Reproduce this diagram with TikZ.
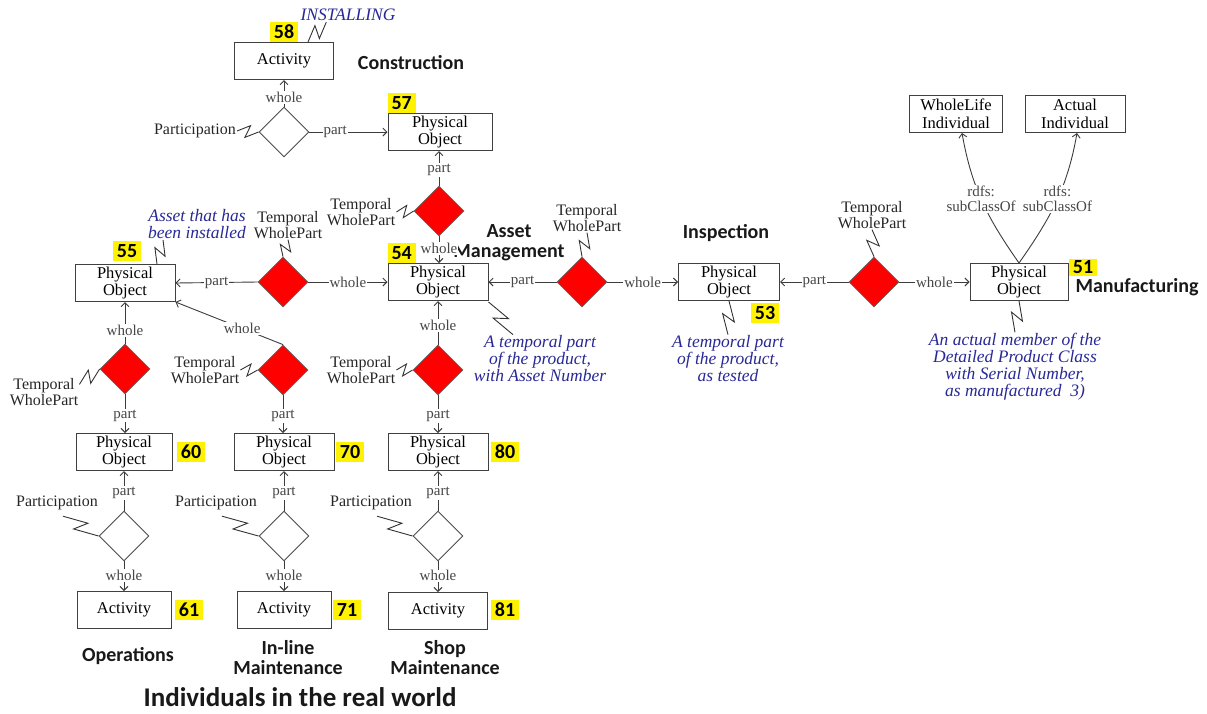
\documentclass[tikz,border=0pt]{standalone}
\usepackage{fontspec}
\setmainfont{Liberation Serif}
\newfontfamily\sansb{Carlito}
\usetikzlibrary{arrows.meta,calc,shapes.geometric}
\definecolor{annblue}{RGB}{40,40,150}
\definecolor{lncol}{RGB}{60,60,60}
\definecolor{relgray}{RGB}{70,70,70}
\newcommand\zz[2]{\draw[zigline] (#1) -- ($(#1)!0.62!(#2)!6pt!90:(#2)$) -- ($(#1)!0.38!(#2)!6pt!-90:(#2)$) -- (#2);}
\tikzset{
 obj/.style={draw=black!75, line width=1pt, fill=white, minimum width=100pt, minimum height=37pt, align=center, inner sep=1pt, font=\fontsize{16.5}{17.5}\selectfont},
 reddia/.style={diamond, draw=black!60, line width=0.8pt, fill=red, minimum width=50pt, minimum height=50pt, inner sep=0pt},
 whitedia/.style={diamond, draw=black!70, line width=0.9pt, fill=white, minimum width=50pt, minimum height=50pt, inner sep=0pt},
 num/.style={fill=yellow, font=\sansb\bfseries\fontsize{20}{20}\selectfont, inner sep=0pt, minimum width=28pt, minimum height=20pt},
 phase/.style={font=\sansb\bfseries\fontsize{20}{20}\selectfont, align=center, text=black!90, inner sep=1pt},
 rel/.style={font=\fontsize{15}{15}\selectfont, text=relgray, fill=white, inner sep=1pt},
 conn/.style={draw=lncol, line width=0.9pt, -{Straight Barb[length=4pt,width=8pt]}},
 zigline/.style={draw=black!80, line width=0.9pt},
 ann/.style={font=\itshape\fontsize{17.5}{17}\selectfont, text=annblue, align=center, inner sep=1pt},
 twp/.style={font=\fontsize{16}{15.5}\selectfont, align=center, inner sep=1pt, text=black!85},
}
\begin{document}
\begin{tikzpicture}[x=1pt,y=-1pt]
\useasboundingbox (0,0) rectangle (1207,713);
% ---------- top ----------
\node[obj, minimum width=99pt] (act58) at (284,61) {Activity};
\node[num] (n58) at (284,32) {58};
\node[ann] (ins) at (348,15) {INSTALLING};
\node[phase] (construction) at (411,63) {Construction};
\node[whitedia] (d58) at (284,132) {};
\node[twp, anchor=east] (part58) at (237,131) {Participation};
\node[obj, minimum width=104pt] (po57) at (440,132) {Physical\\Object};
\node[num, anchor=south west] (n57) at (po57.north west) {57};
\node[reddia] (d57) at (439,211) {};
\node[twp] (tw57) at (361,212) {Temporal\\WholePart};
\node[phase] (assetmgmt) at (509,243) {Asset\\Management};
\node[obj] (po54) at (438,282) {Physical\\Object};
\node[num, anchor=south west] (n54) at (po54.north west) {54};
\node[ann] (ann54) at (540,359) {A temporal part\\of the product,\\with Asset Number};
% left of 54
\node[reddia] (d55) at (283,282) {};
\node[twp] (tw55) at (288,225) {Temporal\\WholePart};
\node[obj] (po55) at (125,283) {Physical\\Object};
\node[num] (n55) at (127,251) {55};
\node[ann] (ann55) at (197,224) {Asset that has\\been installed};
% right of 54
\node[reddia] (d53) at (582,282) {};
\node[twp] (tw53) at (587,218) {Temporal\\WholePart};
\node[obj, minimum width=101pt] (po53) at (729,282) {Physical\\Object};
\node[num] (n53) at (765,313) {53};
\node[phase] (insp) at (726,233) {Inspection};
\node[ann] (ann53) at (728,359) {A temporal part\\of the product,\\as tested};
\node[reddia] (d51) at (874,282) {};
\node[twp] (tw51) at (872,215) {Temporal\\WholePart};
\node[obj, minimum width=98pt] (po51) at (1019,282) {Physical\\Object};
\node[num, minimum height=17pt] (n51) at (1083,267) {51};
\node[phase] (manu) at (1137,287) {Manufacturing};
\node[ann] (ann51) at (1015,367) {An actual member of the\\Detailed Product Class\\with Serial Number,\\as manufactured\ \ 3)};
\node[obj, minimum width=93pt] (wl) at (956,114) {WholeLife\\Individual};
\node[obj] (ai) at (1075,114) {Actual\\Individual};
% ---------- lower columns ----------
\node[reddia] (d60a) at (125,369) {};
\node[twp] (tw60) at (44,392) {Temporal\\WholePart};
\node[obj, minimum width=96pt] (po60) at (124,452) {Physical\\Object};
\node[num] (n60) at (191,452) {60};
\node[whitedia] (d60) at (124,536) {};
\node[twp] (par60) at (57,503) {Participation};
\node[obj, minimum width=94pt] (act61) at (124,610) {Activity};
\node[num] (n61) at (189,610) {61};
\node[phase] (ops) at (128,656) {Operations};

\node[reddia] (d70a) at (283,370) {};
\node[twp] (tw70) at (205,370) {Temporal\\WholePart};
\node[obj] (po70) at (284,452) {Physical\\Object};
\node[num] (n70) at (350,452) {70};
\node[whitedia] (d70) at (284,536) {};
\node[twp] (par70) at (216,503) {Participation};
\node[obj, minimum width=94pt] (act71) at (284,610) {Activity};
\node[num] (n71) at (347,610) {71};
\node[phase] (inline) at (288,658) {In-line\\Maintenance};

\node[reddia] (d80a) at (438,370) {};
\node[twp] (tw80) at (361,370) {Temporal\\WholePart};
\node[obj] (po80) at (438,452) {Physical\\Object};
\node[num] (n80) at (505,452) {80};
\node[whitedia] (d80) at (438,536) {};
\node[twp] (par80) at (371,503) {Participation};
\node[obj, minimum width=99pt] (act81) at (438,611) {Activity};
\node[num] (n81) at (505,610) {81};
\node[phase] (shop) at (445,658) {Shop\\Maintenance};

\node[font=\sansb\bfseries\fontsize{27}{27}\selectfont, text=black!90] (title) at (300,697) {Individuals in the real world};

% ---------- connectors ----------
\draw[conn] (d58.north) -- node[rel,pos=0.35]{whole} (act58.south);
\draw[conn] (d58.east) -- node[rel,pos=0.33]{part} (po57.west);
\draw[conn] (d57.north) -- node[rel,pos=0.45]{part} (d57.north |- po57.south);
\draw[conn] (d57.south) -- node[rel,pos=0.45]{whole} (d57.south |- po54.north);
\draw[conn] (d55.east) -- node[rel]{whole} (po54.west);
\draw[conn] (d55.west) -- node[rel]{part} (po55.east);
\draw[conn] (d53.west) -- node[rel]{part} (po54.east);
\draw[conn] (d53.east) -- node[rel]{whole} (po53.west);
\draw[conn] (d51.west) -- node[rel]{part} (po53.east);
\draw[conn] (d51.east) -- node[rel]{whole} (po51.west);
\coordinate (wlend) at ($(wl.south)+(6,0)$);
\coordinate (aiend) at ($(ai.south)+(2,0)$);
\draw[conn] (po51.north) to[out=125,in=-80] node[rel, align=center, pos=0.52]{rdfs:\\subClassOf} (wlend);
\draw[conn] (po51.north) to[out=55,in=-100] node[rel, align=center, pos=0.52]{rdfs:\\subClassOf} (aiend);

\draw[conn] (d60a.north) -- node[rel,pos=0.32]{whole} (d60a.north |- po55.south);
\draw[conn] (d60a.south) -- node[rel,pos=0.55]{part} (d60a.south |- po60.north);
\draw[conn] (d60.north) -- node[rel,pos=0.45]{part} (d60.north |- po60.south);
\draw[conn] (d60.south) -- node[rel,pos=0.47]{whole} (d60.south |- act61.north);

\draw[conn] (d70a.north) -- node[rel,pos=0.38]{whole} (po55.south east);
\draw[conn] (d70a.south) -- node[rel,pos=0.55]{part} (d70a.south |- po70.north);
\draw[conn] (d70.north) -- node[rel,pos=0.45]{part} (d70.north |- po70.south);
\draw[conn] (d70.south) -- node[rel,pos=0.47]{whole} (d70.south |- act71.north);

\draw[conn] (d80a.north) -- node[rel,pos=0.44]{whole} (d80a.north |- po54.south);
\draw[conn] (d80a.south) -- node[rel,pos=0.55]{part} (d80a.south |- po80.north);
\draw[conn] (d80.north) -- node[rel,pos=0.45]{part} (d80.north |- po80.south);
\draw[conn] (d80.south) -- node[rel,pos=0.47]{whole} (d80.south |- act81.north);

% ---------- zigzag annotation links ----------
\coordinate (z58a) at ($(act58.north)+(24,0)$);
\coordinate (z58b) at ($(ins.south west)+(27,0)$);
\zz{z58a}{z58b}
\zz{part58.east}{d58.west}
\zz{tw57.east}{d57.west}
\zz{tw55.south}{d55.north}
\coordinate (z55a) at ($(po55.north)+(32,0)$);
\coordinate (z55b) at ($(ann55.south)+(-34,0)$);
\zz{z55a}{z55b}
\coordinate (z54a) at ($(po54.south east)+(0,1)$);
\coordinate (z54b) at ($(ann54.north)+(-27,0)$);
\zz{z54a}{z54b}
\zz{tw53.south}{d53.north}
\zz{tw51.south}{d51.north}
\zz{po53.south}{ann53.north}
\zz{po51.south}{ann51.north}
\coordinate (z60a) at ($(tw60.north east)+(0,7)$);
\zz{z60a}{d60a.west}
\zz{tw70.east}{d70a.west}
\zz{tw80.east}{d80a.west}
\coordinate (p60a) at ($(par60.south)+(6,5)$);
\coordinate (p70a) at ($(par70.south)+(6,5)$);
\coordinate (p80a) at ($(par80.south)+(6,5)$);
\zz{p60a}{d60.west}
\zz{p70a}{d70.west}
\zz{p80a}{d80.west}
\end{tikzpicture}
\end{document}
